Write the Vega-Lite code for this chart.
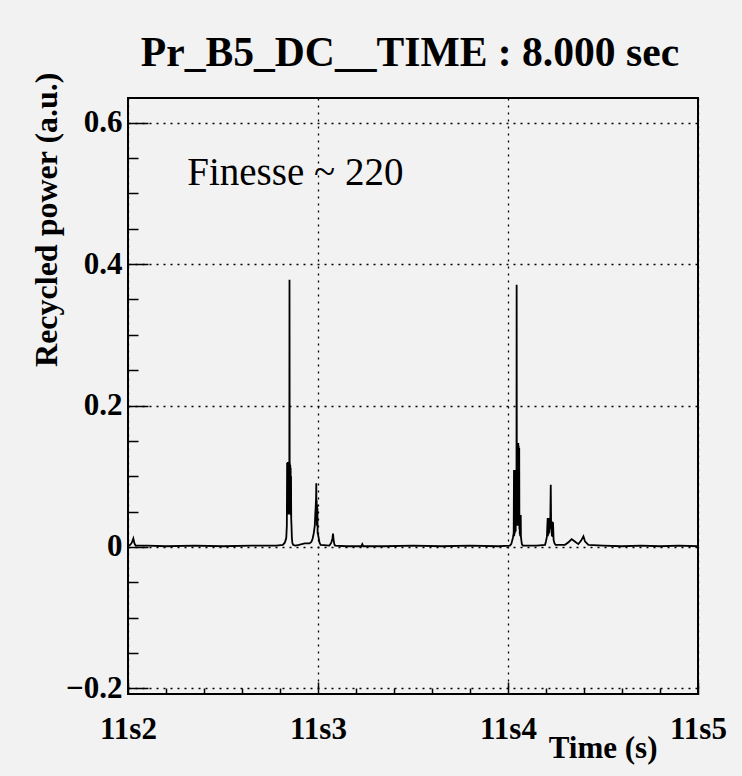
{
  "$schema": "https://vega.github.io/schema/vega-lite/v6.json",
  "width": 570,
  "height": 596,
  "autosize": {"type": "none"},
  "padding": {"left": 128, "top": 98, "right": 44, "bottom": 82},
  "background": "#f2f2f2",
  "config": {
    "view": {"fill": "#f2f2f2", "stroke": "black", "strokeWidth": 2},
    "font": "Liberation Serif"
  },
  "title": {
    "text": "Pr_B5_DC__TIME : 8.000 sec",
    "font": "Liberation Serif",
    "fontSize": 41.6,
    "fontWeight": "bold",
    "color": "black",
    "frame": "group",
    "anchor": "middle",
    "baseline": "alphabetic",
    "offset": -36,
    "dx": -3
  },
  "layer": [
    {
      "data": {
        "values": [
          {"t": 2.000, "p": 0.002}, {"t": 2.012, "p": 0.003}, {"t": 2.020, "p": 0.006}, {"t": 2.028, "p": 0.012},
          {"t": 2.034, "p": 0.005}, {"t": 2.040, "p": 0.002}, {"t": 2.100, "p": 0.002}, {"t": 2.200, "p": 0.001},
          {"t": 2.350, "p": 0.002}, {"t": 2.500, "p": 0.001}, {"t": 2.650, "p": 0.002}, {"t": 2.780, "p": 0.002},
          {"t": 2.815, "p": 0.003}, {"t": 2.825, "p": 0.006}, {"t": 2.830, "p": 0.010}, {"t": 2.833, "p": 0.013},
          {"t": 2.836, "p": 0.030}, {"t": 2.8375, "p": 0.119}, {"t": 2.8385, "p": 0.050}, {"t": 2.8395, "p": 0.118},
          {"t": 2.8405, "p": 0.048}, {"t": 2.8415, "p": 0.120}, {"t": 2.8425, "p": 0.046}, {"t": 2.8435, "p": 0.119},
          {"t": 2.8445, "p": 0.052}, {"t": 2.8455, "p": 0.117}, {"t": 2.8465, "p": 0.047}, {"t": 2.8475, "p": 0.119},
          {"t": 2.849, "p": 0.060}, {"t": 2.850, "p": 0.378}, {"t": 2.851, "p": 0.070}, {"t": 2.852, "p": 0.118},
          {"t": 2.853, "p": 0.046}, {"t": 2.854, "p": 0.116}, {"t": 2.855, "p": 0.050}, {"t": 2.856, "p": 0.112},
          {"t": 2.857, "p": 0.045}, {"t": 2.858, "p": 0.100}, {"t": 2.859, "p": 0.040}, {"t": 2.8605, "p": 0.030},
          {"t": 2.8625, "p": 0.013}, {"t": 2.865, "p": 0.006}, {"t": 2.869, "p": 0.003}, {"t": 2.880, "p": 0.002},
          {"t": 2.900, "p": 0.003}, {"t": 2.930, "p": 0.005}, {"t": 2.955, "p": 0.005}, {"t": 2.965, "p": 0.007},
          {"t": 2.972, "p": 0.012}, {"t": 2.978, "p": 0.020}, {"t": 2.983, "p": 0.030}, {"t": 2.986, "p": 0.048},
          {"t": 2.988, "p": 0.057}, {"t": 2.990, "p": 0.070}, {"t": 2.991, "p": 0.090}, {"t": 2.992, "p": 0.040},
          {"t": 2.993, "p": 0.066}, {"t": 2.994, "p": 0.030}, {"t": 2.995, "p": 0.060}, {"t": 2.996, "p": 0.035},
          {"t": 2.997, "p": 0.055}, {"t": 2.998, "p": 0.020}, {"t": 3.000, "p": 0.018}, {"t": 3.004, "p": 0.012},
          {"t": 3.008, "p": 0.006}, {"t": 3.014, "p": 0.003}, {"t": 3.060, "p": 0.002}, {"t": 3.070, "p": 0.006},
          {"t": 3.076, "p": 0.012}, {"t": 3.079, "p": 0.019}, {"t": 3.082, "p": 0.010}, {"t": 3.086, "p": 0.004},
          {"t": 3.090, "p": 0.002}, {"t": 3.150, "p": 0.001}, {"t": 3.228, "p": 0.001}, {"t": 3.233, "p": 0.004},
          {"t": 3.238, "p": 0.001}, {"t": 3.350, "p": 0.001}, {"t": 3.500, "p": 0.002}, {"t": 3.650, "p": 0.001},
          {"t": 3.800, "p": 0.002}, {"t": 3.950, "p": 0.001}, {"t": 4.010, "p": 0.002}, {"t": 4.017, "p": 0.004},
          {"t": 4.026, "p": 0.013}, {"t": 4.030, "p": 0.020}, {"t": 4.0315, "p": 0.109}, {"t": 4.0325, "p": 0.015},
          {"t": 4.0335, "p": 0.108}, {"t": 4.0345, "p": 0.018}, {"t": 4.0355, "p": 0.109}, {"t": 4.0365, "p": 0.020},
          {"t": 4.0375, "p": 0.107}, {"t": 4.0385, "p": 0.025}, {"t": 4.0395, "p": 0.109}, {"t": 4.0405, "p": 0.022},
          {"t": 4.0415, "p": 0.106}, {"t": 4.0425, "p": 0.030}, {"t": 4.0435, "p": 0.109}, {"t": 4.0445, "p": 0.040},
          {"t": 4.0455, "p": 0.371}, {"t": 4.0465, "p": 0.060}, {"t": 4.048, "p": 0.147}, {"t": 4.049, "p": 0.030},
          {"t": 4.050, "p": 0.146}, {"t": 4.051, "p": 0.035}, {"t": 4.052, "p": 0.145}, {"t": 4.053, "p": 0.030},
          {"t": 4.054, "p": 0.147}, {"t": 4.055, "p": 0.040}, {"t": 4.056, "p": 0.143}, {"t": 4.0575, "p": 0.030},
          {"t": 4.059, "p": 0.140}, {"t": 4.060, "p": 0.025}, {"t": 4.061, "p": 0.045}, {"t": 4.062, "p": 0.018},
          {"t": 4.063, "p": 0.045}, {"t": 4.064, "p": 0.015}, {"t": 4.065, "p": 0.044}, {"t": 4.066, "p": 0.016},
          {"t": 4.067, "p": 0.045}, {"t": 4.068, "p": 0.015}, {"t": 4.070, "p": 0.010}, {"t": 4.073, "p": 0.004},
          {"t": 4.078, "p": 0.002}, {"t": 4.150, "p": 0.002}, {"t": 4.195, "p": 0.003}, {"t": 4.200, "p": 0.008},
          {"t": 4.205, "p": 0.015}, {"t": 4.207, "p": 0.030}, {"t": 4.209, "p": 0.041}, {"t": 4.210, "p": 0.015},
          {"t": 4.212, "p": 0.041}, {"t": 4.214, "p": 0.018}, {"t": 4.216, "p": 0.040}, {"t": 4.218, "p": 0.020},
          {"t": 4.220, "p": 0.041}, {"t": 4.222, "p": 0.025}, {"t": 4.225, "p": 0.088}, {"t": 4.227, "p": 0.030},
          {"t": 4.229, "p": 0.036}, {"t": 4.231, "p": 0.015}, {"t": 4.233, "p": 0.036}, {"t": 4.235, "p": 0.014},
          {"t": 4.237, "p": 0.035}, {"t": 4.240, "p": 0.010}, {"t": 4.245, "p": 0.005}, {"t": 4.250, "p": 0.003},
          {"t": 4.300, "p": 0.003}, {"t": 4.320, "p": 0.007}, {"t": 4.335, "p": 0.011}, {"t": 4.350, "p": 0.008},
          {"t": 4.370, "p": 0.004}, {"t": 4.385, "p": 0.009}, {"t": 4.397, "p": 0.015}, {"t": 4.405, "p": 0.008},
          {"t": 4.423, "p": 0.003}, {"t": 4.500, "p": 0.002}, {"t": 4.600, "p": 0.001}, {"t": 4.700, "p": 0.002},
          {"t": 4.800, "p": 0.001}, {"t": 4.900, "p": 0.002}, {"t": 5.000, "p": 0.001}
        ]
      },
      "mark": {"type": "line", "color": "black", "strokeWidth": 1.8, "strokeJoin": "miter"},
      "encoding": {
        "x": {
          "field": "t",
          "type": "quantitative",
          "scale": {"domain": [2, 5], "nice": false, "zero": false},
          "axis": {
            "values": [2, 2.2, 2.4, 2.6, 2.8, 3, 3.2, 3.4, 3.6, 3.8, 4, 4.2, 4.4, 4.6, 4.8, 5],
            "tickCount": 100,
            "labelExpr": "abs(datum.value - round(datum.value)) < 0.001 ? '11s' + format(datum.value, 'd') : ''",
            "labelFont": "Liberation Serif",
            "labelFontWeight": "bold",
            "labelFontSize": 31,
            "labelColor": "black",
            "labelBaseline": "alphabetic",
            "labelAlign": "center",
            "labelPadding": 56,
            "labelFlush": false,
            "labelOverlap": false,
            "domain": false,
            "tickColor": "black",
            "tickWidth": 1.5,
            "tickSize": {"condition": {"test": "abs(datum.value - round(datum.value)) < 0.001", "value": -12}, "value": -6},
            "grid": true,
            "gridColor": "black",
            "gridDash": [2, 5],
            "gridWidth": 1.3,
            "gridOpacity": {"condition": {"test": "abs(datum.value - round(datum.value)) < 0.001", "value": 1}, "value": 0},
            "title": "Time (s)",
            "titleFont": "Liberation Serif",
            "titleFontWeight": "bold",
            "titleFontSize": 31,
            "titleColor": "black",
            "titleAlign": "right",
            "titleBaseline": "alphabetic",
            "titleX": 529,
            "titleY": 63
          }
        },
        "y": {
          "field": "p",
          "type": "quantitative",
          "scale": {"domain": [-0.208, 0.635], "nice": false, "zero": false},
          "axis": {
            "values": [-0.2, -0.15, -0.1, -0.05, 0, 0.05, 0.1, 0.15, 0.2, 0.25, 0.3, 0.35, 0.4, 0.45, 0.5, 0.55, 0.6],
            "tickCount": 100,
            "labelExpr": "abs(datum.value*5 - round(datum.value*5)) < 0.001 ? (abs(datum.value) < 1e-9 ? '0' : replace(format(datum.value, '.1f'), '-', '\u2212')) : ''",
            "labelFont": "Liberation Serif",
            "labelFontWeight": "bold",
            "labelFontSize": 31,
            "labelColor": "black",
            "labelBaseline": "middle",
            "labelAlign": "right",
            "labelPadding": 26,
            "labelFlush": false,
            "labelOverlap": false,
            "domain": false,
            "tickColor": "black",
            "tickWidth": 1.5,
            "tickSize": {"condition": {"test": "abs(datum.value*5 - round(datum.value*5)) < 0.001", "value": -20}, "value": -10},
            "grid": true,
            "gridColor": "black",
            "gridDash": [2, 5],
            "gridWidth": 1.3,
            "gridOpacity": {"condition": {"test": "abs(datum.value*5 - round(datum.value*5)) < 0.001", "value": 1}, "value": 0},
            "title": "Recycled power (a.u.)",
            "titleFont": "Liberation Serif",
            "titleFontWeight": "bold",
            "titleFontSize": 32,
            "titleColor": "black",
            "titleAngle": -90,
            "titleAlign": "right",
            "titleBaseline": "alphabetic",
            "titleX": -72,
            "titleY": -26
          }
        }
      }
    },
    {
      "data": {"values": [{"t": 2.312, "p": 0.512, "label": "Finesse ~ 220"}]},
      "mark": {"type": "text", "font": "Liberation Serif", "fontSize": 39, "color": "black", "align": "left", "baseline": "alphabetic"},
      "encoding": {
        "x": {"field": "t", "type": "quantitative"},
        "y": {"field": "p", "type": "quantitative"},
        "text": {"field": "label"}
      }
    }
  ]
}
